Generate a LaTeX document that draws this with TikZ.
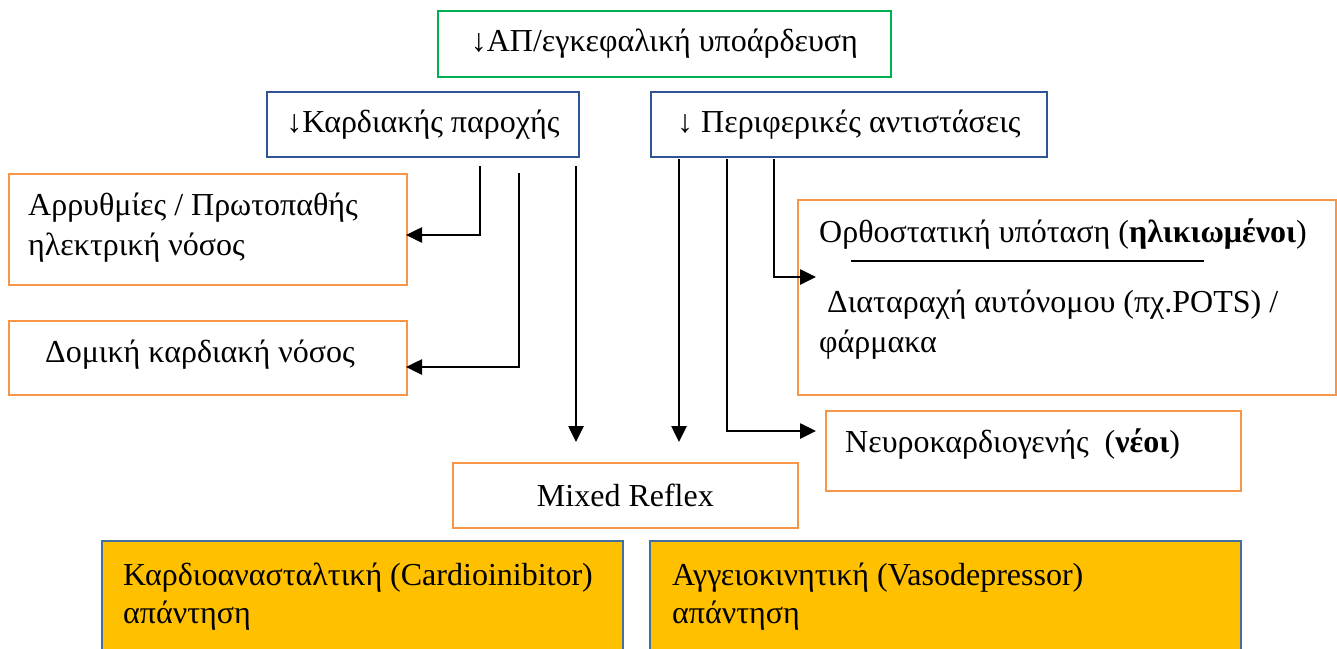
\documentclass[tikz,border=0pt]{standalone}
\usepackage{fontspec}
\setmainfont{Liberation Serif}
\usetikzlibrary{arrows.meta,calc}
\definecolor{gborder}{HTML}{00B050}
\definecolor{bborder}{HTML}{2F5597}
\definecolor{oborder}{HTML}{F79646}
\definecolor{goldfill}{HTML}{FFC000}
\definecolor{goldborder}{HTML}{41719C}
\begin{document}
\begin{tikzpicture}[x=1pt,y=-1pt,
  box/.style={draw, line width=1.8pt, inner sep=0pt, anchor=north west},
  txt/.style={font=\fontsize{32}{38}\selectfont, inner sep=0pt},
  conn/.style={line width=2.6pt, -{Triangle[length=16pt,width=15pt]}},
]
\clip (0,0) rectangle (1337,648);
\fill[white] (0,0) rectangle (1337,648);

% top row
\node[box, draw=gborder, minimum width=453pt, minimum height=66pt, txt] (top) at (437,10) {↓ΑΠ/εγκεφαλική υποάρδευση};
\node[box, draw=bborder, minimum width=312pt, minimum height=65pt, txt] (co) at (266,91) {↓Καρδιακής παροχής};
\node[box, draw=bborder, minimum width=396pt, minimum height=65pt, txt] (pr) at (650,91) {↓ Περιφερικές αντιστάσεις};

% left orange boxes
\node[box, draw=oborder, minimum width=398pt, minimum height=111pt] (arr) at (8,173) {};
\node[txt, anchor=north west, align=left, font=\fontsize{32}{40}\selectfont] (arrtxt) at (28,187) {\strut Αρρυθμίες / Πρωτοπαθής\\ηλεκτρική νόσος};
\node[box, draw=oborder, minimum width=398pt, minimum height=74pt] (dom) at (8,320) {};
\node[txt, anchor=base west] (domtxt) at (45,362) {Δομική καρδιακή νόσος};

% right orange boxes
\node[box, draw=oborder, minimum width=538pt, minimum height=195pt] (ort) at (797,199) {};
\node[txt, anchor=base west] (orttxt) at (819,242) {Ορθοστατική υπόταση (\textbf{ηλικιωμένοι})};
\coordinate (ruleA) at (851,261);
\coordinate (ruleB) at (1204,261);
\draw[line width=2.2pt] (ruleA) -- (ruleB);
\node[txt, anchor=north west, align=left, font=\fontsize{32}{40}\selectfont] (auttxt) at (819,284) {\strut\hspace{8pt}Διαταραχή αυτόνομου (πχ.POTS) /\\φάρμακα};

\node[box, draw=oborder, minimum width=415pt, minimum height=80pt] (neu) at (825,410) {};
\node[txt, anchor=base west] (neutxt) at (845,452) {Νευροκαρδιογενής\ \ (\textbf{νέοι})};

\node[box, draw=oborder, minimum width=345pt, minimum height=65pt, txt] (mix) at (452,462) {Mixed Reflex};

% bottom gold boxes
\node[box, draw=goldborder, fill=goldfill, minimum width=521pt, minimum height=130pt] (cin) at (101,540) {};
\node[txt, anchor=north west, align=left] (cintxt) at (123,559) {\strut Καρδιοανασταλτική (Cardioinibitor)\\απάντηση};
\node[box, draw=goldborder, fill=goldfill, minimum width=591pt, minimum height=130pt] (vas) at (649,540) {};
\node[txt, anchor=north west, align=left] (vastxt) at (672,559) {\strut Αγγειοκινητική (Vasodepressor)\\απάντηση};

% connectors
\coordinate (k1) at (480,166);
\coordinate (t1) at (406,235);
\coordinate (k2) at (519,173);
\coordinate (t2) at (406,367);
\coordinate (k3) at (576,166);
\coordinate (t3) at (576,442);
\coordinate (k4) at (679,159);
\coordinate (t4) at (679,442);
\coordinate (k5) at (727,159);
\coordinate (t5) at (816,431);
\coordinate (k6) at (774,159);
\coordinate (t6) at (816,277);
\draw[conn] (k1) |- (t1);
\draw[conn] (k2) |- (t2);
\draw[conn] (k3) -- (t3);
\draw[conn] (k4) -- (t4);
\draw[conn] (k5) |- (t5);
\draw[conn] (k6) |- (t6);
\end{tikzpicture}
\end{document}
